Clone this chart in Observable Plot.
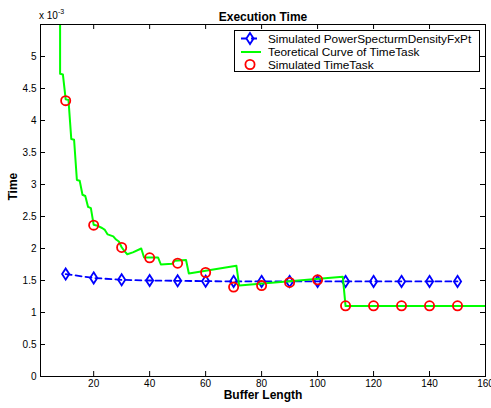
<!DOCTYPE html>
<html><head><meta charset="utf-8">
<script src="https://cdn.jsdelivr.net/npm/d3@7"></script>
<script src="https://cdn.jsdelivr.net/npm/@observablehq/plot@0.6"></script>
<style>body{margin:0;background:#fff}#chart{width:491px;height:408px}</style>
</head><body><div id="chart"></div>
<script>
// ---- data (time values in units of 1e-3 s) ----
const bufferLengths = [10, 20, 30, 40, 50, 60, 70, 80, 90, 100, 110, 120, 130, 140, 150];
const psdTime = [1.60, 1.54, 1.51, 1.50, 1.495, 1.49, 1.485, 1.485, 1.485, 1.485, 1.485, 1.485, 1.485, 1.485, 1.485];
const simTime = [4.31, 2.365, 2.016, 1.855, 1.77, 1.625, 1.397, 1.42, 1.47, 1.51, 1.105, 1.105, 1.105, 1.105, 1.105];
const theoryX = [8, 8, 9, 10, 11, 12, 13, 14, 15, 16, 17, 18, 19, 20, 21, 23, 24, 25, 27, 28, 29, 30, 31, 32, 34, 37, 38, 43, 44, 48, 49, 53, 54, 71, 72, 109, 110, 160];
const theoryTime = [6.5, 4.73, 4.72, 4.33, 4.32, 3.71, 3.70, 3.07, 3.06, 2.84, 2.82, 2.65, 2.63, 2.37, 2.36, 2.32, 2.29, 2.22, 2.19, 2.14, 2.11, 2.02, 1.96, 1.91, 1.94, 2.0, 1.86, 1.86, 1.75, 1.76, 1.81, 1.82, 1.61, 1.73, 1.42, 1.56, 1.10, 1.10];
const xTicks = [20, 40, 60, 80, 100, 120, 140, 160];
const yTicks = [0, 0.5, 1, 1.5, 2, 2.5, 3, 3.5, 4, 4.5, 5];
const seriesNames = ["Simulated PowerSpecturmDensityFxPt", "Teoretical Curve of TimeTask", "Simulated TimeTask"];

const psd = bufferLengths.map((x, i) => ({x, y: psdTime[i]}));
const sim = bufferLengths.map((x, i) => ({x, y: simTime[i]}));
const theory = theoryX.map((x, i) => ({x, y: theoryTime[i]}));

const W = 491, H = 408, mL = 40, mR = 6, mT = 24, mB = 32;
const fw = W - mL - mR, fh = H - mT - mB;

const tallDiamond = {
  draw(ctx) {
    const w = 3.6, h = 5.6;
    ctx.moveTo(0, -h); ctx.lineTo(w, 0); ctx.lineTo(0, h); ctx.lineTo(-w, 0); ctx.closePath();
  }
};

const chart = Plot.plot({
  width: W, height: H,
  marginLeft: mL, marginRight: mR, marginTop: mT, marginBottom: mB,
  style: {fontFamily: "'Liberation Sans', Arial, Helvetica, sans-serif", fontSize: "10px", color: "black", background: "white"},
  x: {domain: [1, 160]},
  y: {domain: [0, 5.5]},
  marks: [
    Plot.tickX(xTicks, {x: d => d, insetTop: fh - 5, stroke: "black", strokeWidth: 1}),
    Plot.tickX(xTicks, {x: d => d, insetBottom: fh - 5, stroke: "black", strokeWidth: 1}),
    Plot.tickY(yTicks, {y: d => d, insetRight: fw - 5, stroke: "black", strokeWidth: 1}),
    Plot.tickY(yTicks, {y: d => d, insetLeft: fw - 5, stroke: "black", strokeWidth: 1}),
    Plot.axisX(xTicks, {tickSize: 0, tickPadding: 3, label: null, fontSize: 10, fill: "black"}),
    Plot.axisY(yTicks, {tickSize: 0, tickPadding: 4, label: null, fontSize: 10, fill: "black", tickFormat: d => String(d)}),
    Plot.line(psd, {x: "x", y: "y", stroke: "#0000ff", strokeWidth: 1.8, strokeDasharray: "6,4"}),
    Plot.dot(psd, {x: "x", y: "y", symbol: tallDiamond, stroke: "#0000ff", strokeWidth: 1.8, fill: "none"}),
    Plot.line(theory, {x: "x", y: "y", stroke: "#00ff00", strokeWidth: 2, clip: true}),
    Plot.dot(sim, {x: "x", y: "y", r: 4.6, stroke: "#ff0000", strokeWidth: 1.8, fill: "none"}),
    Plot.frame({stroke: "black", strokeWidth: 1}),
    Plot.text(["Execution Time"], {text: d => d, frameAnchor: "top", dy: -12, fontWeight: "bold", fontSize: 12, fill: "black"}),
    Plot.text(["Buffer Length"], {text: d => d, frameAnchor: "bottom", dy: 22, fontWeight: "bold", fontSize: 12, fill: "black"}),
    Plot.text(["Time"], {text: d => d, frameAnchor: "left", dx: -27, rotate: -90, fontWeight: "bold", fontSize: 12, fill: "black"})
  ]
});
document.getElementById("chart").appendChild(chart);

const svg = d3.select(chart);
// exponent label
const ex = svg.append("text").attr("x", 39).attr("y", 19).attr("font-size", 10).attr("fill", "black").attr("text-anchor", "start");
ex.append("tspan").text("x 10");
ex.append("tspan").attr("font-size", 7).attr("dy", -5).text("-3");

// legend
const lg = svg.append("g").attr("text-anchor", "start");
lg.append("rect").attr("x", 234.5).attr("y", 30.5).attr("width", 245).attr("height", 41)
  .attr("fill", "white").attr("stroke", "black").attr("stroke-width", 1);
const rows = [38.5, 52, 64.5];
lg.append("line").attr("x1", 241).attr("x2", 261).attr("y1", rows[0]).attr("y2", rows[0])
  .attr("stroke", "#0000ff").attr("stroke-width", 1.8).attr("stroke-dasharray", "6,4");
lg.append("path").attr("d", "M250," + (rows[0] - 5.6) + "L253.6," + rows[0] + "L250," + (rows[0] + 5.6) + "L246.4," + rows[0] + "Z")
  .attr("fill", "none").attr("stroke", "#0000ff").attr("stroke-width", 1.8);
lg.append("line").attr("x1", 241).attr("x2", 261).attr("y1", rows[1]).attr("y2", rows[1])
  .attr("stroke", "#00ff00").attr("stroke-width", 2);
lg.append("circle").attr("cx", 250).attr("cy", rows[2]).attr("r", 4.6)
  .attr("fill", "none").attr("stroke", "#ff0000").attr("stroke-width", 1.8);
seriesNames.forEach((s, i) => {
  lg.append("text").attr("x", 268).attr("y", rows[i]).attr("dy", "0.35em").attr("text-anchor", "start")
    .attr("font-size", 11.8).attr("fill", "black").text(s);
});
</script>
</body></html>
